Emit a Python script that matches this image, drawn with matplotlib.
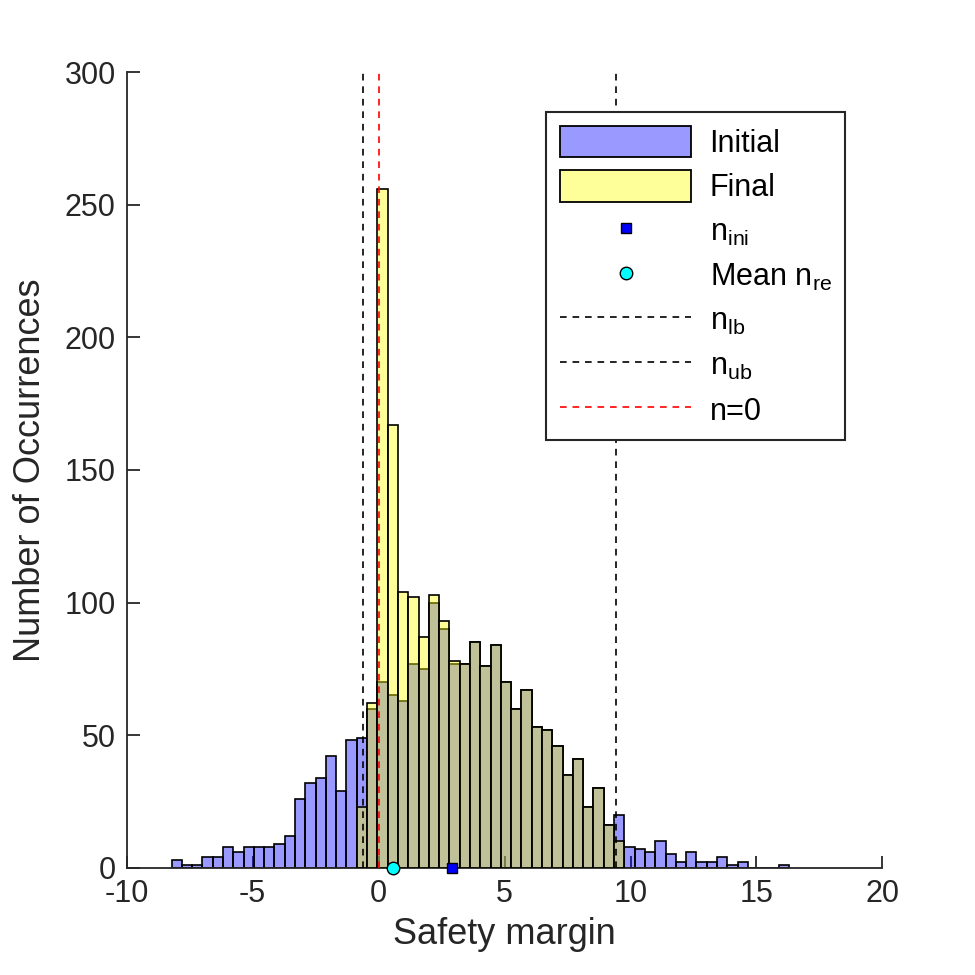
import matplotlib
matplotlib.use("Agg")
import matplotlib.pyplot as plt
from matplotlib.patches import Patch
from matplotlib.lines import Line2D
import numpy as np

plt.rcParams['font.family'] = ['Liberation Sans', 'DejaVu Sans']
plt.rcParams['mathtext.fontset'] = 'custom'
plt.rcParams['mathtext.rm'] = 'Liberation Sans'
plt.rcParams['axes.unicode_minus'] = False

# histogram bins (shared by both histograms)
bin_start = -8.222
bin_width = 0.4086

# counts of the initial safety margin, one per bin from bin_start
initial_counts = [3, 1, 1, 4, 4, 8, 6, 8, 8, 8,
                  9, 12, 26, 32, 34, 42, 29, 48, 49, 60,
                  70, 65, 63, 77, 75, 100, 90, 77, 77, 85,
                  76, 84, 70, 60, 67, 53, 52, 46, 35, 41,
                  23, 30, 16, 20, 8, 7, 6, 10, 5, 2,
                  6, 2, 2, 4, 1, 2, 0, 0, 0, 1]
# final histogram starts 18 bins later
final_offset = 18
final_counts = [23, 62, 256, 167, 104, 102, 87, 103, 93, 78,
                77, 85, 76, 84, 70, 60, 67, 53, 52, 46,
                35, 41, 23, 30, 16, 10]

n_ini = 2.92
mean_n_re = 0.57
n_lb = -0.64
n_ub = 9.44

ini_edges = bin_start + bin_width * np.arange(len(initial_counts))
fin_edges = bin_start + bin_width * (final_offset + np.arange(len(final_counts)))

fig = plt.figure(figsize=(9.75, 9.75), dpi=100)
ax = fig.add_axes([0.130, 0.110, 0.775, 0.816])

ax.bar(ini_edges, initial_counts, width=bin_width, align='edge',
       color=(0, 0, 1, 0.4), edgecolor='black', linewidth=1.2, zorder=2)
ax.bar(fin_edges, final_counts, width=bin_width, align='edge',
       color=(1, 1, 0, 0.4), edgecolor='black', linewidth=1.2, zorder=3)

dash = (0, (4, 3.5))
ax.axvline(n_lb, color='black', linestyle=dash, linewidth=1.2, zorder=4)
ax.axvline(n_ub, color='black', linestyle=dash, linewidth=1.2, zorder=4)
ax.axvline(0, color='red', linestyle=dash, linewidth=1.2, zorder=4)

ax.plot([n_ini], [0], linestyle='none', marker='s', markersize=7,
        markerfacecolor='blue', markeredgecolor='black', clip_on=False, zorder=6)
ax.plot([mean_n_re], [0], linestyle='none', marker='o', markersize=9,
        markerfacecolor='cyan', markeredgecolor='black', clip_on=False, zorder=6)

ax.set_xlim(-10, 20)
ax.set_ylim(0, 300)
ax.set_xticks(np.arange(-10, 21, 5))
ax.set_yticks(np.arange(0, 301, 50))
ax.spines['top'].set_visible(False)
ax.spines['right'].set_visible(False)
for s in ('left', 'bottom'):
    ax.spines[s].set_color('#262626')
    ax.spines[s].set_linewidth(1.3)
ax.tick_params(direction='in', length=9, width=1.3, colors='#262626',
               labelsize=22, pad=8)
ax.set_xlabel('Safety margin', fontsize=26, color='#262626', labelpad=6)
ax.set_ylabel('Number of Occurrences', fontsize=26, color='#262626', labelpad=12)

handles = [
    Patch(facecolor=(0, 0, 1, 0.4), edgecolor='black', linewidth=1.3),
    Patch(facecolor=(1, 1, 0, 0.4), edgecolor='black', linewidth=1.3),
    Line2D([], [], linestyle='none', marker='s', markersize=7,
           markerfacecolor='blue', markeredgecolor='black'),
    Line2D([], [], linestyle='none', marker='o', markersize=9,
           markerfacecolor='cyan', markeredgecolor='black'),
    Line2D([], [], color='black', linestyle=dash, linewidth=1.2),
    Line2D([], [], color='black', linestyle=dash, linewidth=1.2),
    Line2D([], [], color='red', linestyle=dash, linewidth=1.2),
]
labels = ['Initial', 'Final', r'$\mathregular{n_{ini}}$',
          r'Mean $\mathregular{n_{re}}$', r'$\mathregular{n_{lb}}$',
          r'$\mathregular{n_{ub}}$', 'n=0']
leg = ax.legend(handles, labels, loc='upper left',
                bbox_to_anchor=(0.555, 0.950), borderaxespad=0, fontsize=22,
                handlelength=4.3, handleheight=1.2, handletextpad=0.6,
                labelspacing=0.38, borderpad=0.45, fancybox=False,
                framealpha=1, edgecolor='#262626')
leg.get_frame().set_linewidth(1.5)

fig.savefig('out.png', dpi=100)
